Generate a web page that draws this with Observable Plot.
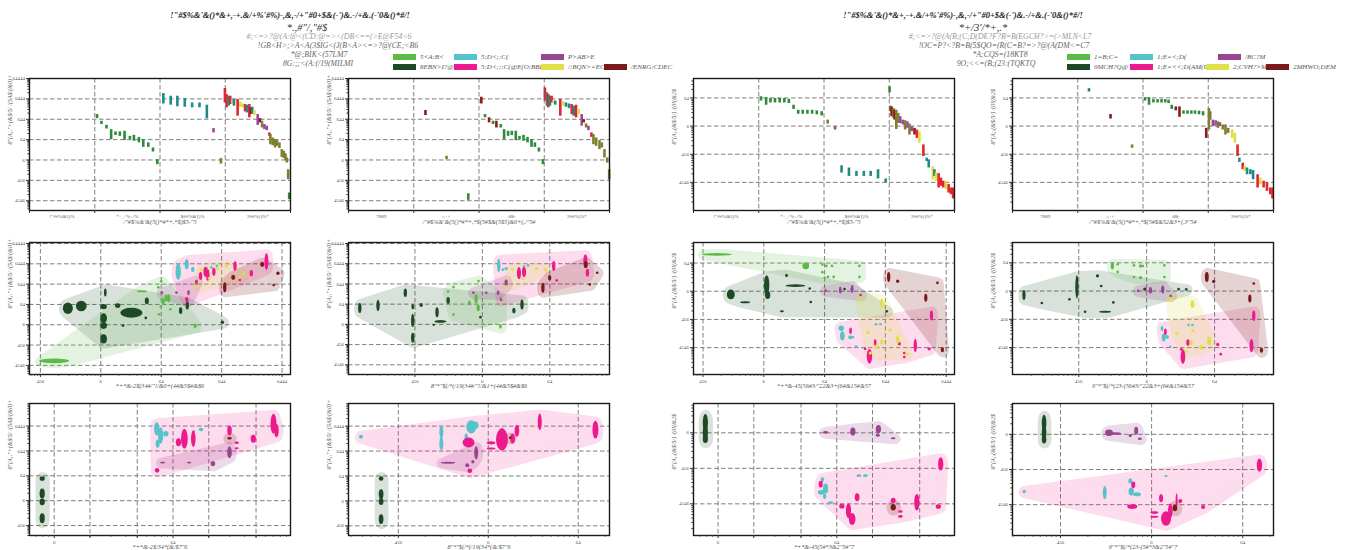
<!DOCTYPE html>
<html><head><meta charset="utf-8">
<script src="https://cdn.jsdelivr.net/npm/d3@7"></script>
<script src="https://cdn.jsdelivr.net/npm/@observablehq/plot@0.6"></script>
<style>
body{margin:0;background:#fff;width:1347px;height:550px;overflow:hidden;position:relative;font-family:"Liberation Serif",serif;}
.t{position:absolute;white-space:nowrap;font-style:italic;transform:translate(-50%,-50%);line-height:1;}
.p{position:absolute;}
.sw{position:absolute;width:23px;height:6px;}
.lb{position:absolute;white-space:nowrap;font-style:italic;font-size:7px;color:#555;transform:translateY(-50%);line-height:1;}
</style></head><body>
<script>
// ---------------- text ----------------
const titleG1 = `!"#$%&'&()*&+,-+.&/+%'#%)-,&,-/+"#0+$&(-')&.-/+&.(-'0&()*#/!`;
const titleG2 = `!"#$%&'&()*&+,-+.&/+%'#%)-,&,-/+"#0+$&(-')&.-/+&.(-'0&()*#/!`;
const subG1 = `*.,#"/,"#$`;
const subG2 = `*+/3'/*+,.*`;
const linesG1 = [`#;<=>?@(A:@<(CD:@=><(DB<==(>E@F54<6`, `!GB<H>;>A<A(3$IG<(J(B<A><=>?@(CE;<B6`, `*@;BIK<(57LM7`, `8G:;;<(A:(/19(MILMI`];
const linesG2 = [`#;<=>?@(A(B;(C;D(DE?F?B=B(EGCH?>=(>MLN<L7`, `!OC=P?<?B=B(5$QO=(R(C=B?=>?@(A(DM<=C7`, `*A;CQS=(18KT8`, `9O;<<=(B;(23:(TQKTQ`];
const legendG1 = [`5<A:B<`, `5:D<;:C(`, `P>AB>E`, `8EBN>I?@`, `5:D<;;:C(@E(O:BBI`, `/:BQN>=EC`, `/ENRG:CDEC`];
const legendG2 = [`1=B;C=`, `1;E=<;D(`, `/BC?M`, `9MCH?Q@`, `1;E=<<;D(AM(U;C(`, `2;CVH?>M`, `2MHWO;DEM`];
const legendCats = ["lg","cy","pu","dg","mg","ye","dr"];
const xLabG1 = [`/"#$%&'&(5()*#*+,*$)$5-"5`, `/"#$%&'&(5()*#*+,*$(5#$&(5$5)&0+(,/"5#`, `*+*&-2$(34#/"!/&0+(4#&5$#&$6`, `8"*"$(/*(/19(34#/"!/&1+(4#&5$#&$6`, `*+*&-2$/34*(&/$7"6`, `8"*"$(/*(/19(34*(&/$7"6`];
const xLabG2 = [`/"#$%&'&(5()*#*+,*$)$5-"5`, `/"#$%&'&(5()*#*+,*$(5#$&52&3+(,3"5#`, `*+*&-45(56#3/"22&3+(6#&15#&57`, `9"*"$(/*(23-(56#3/"22&3+(6#&15#&57`, `*+*&-45(5#*3&2"5#"7`, `9"*"$(/*(23-(5#*3&2"5#"7`];
const yLabG1 = `8"(A;,"+(&$/5/ /(5A$/(&0)+`;
const yLabG2 = `8"(A;,(&$/5/) /(0!(&2$`;
const sectG1A = [`!"##%&'()%`, `*+,+%-./%`, `$##%&'()%`, `2##%()%*`];
const sectG1B = [`7889`, `:;+<`, `;88-`, `2##%)%*`];
const sectG2A = [`!"##%&'()%`, `*+,+%-./%`, `$##%&'()%`, `2##%()%*`];
const sectG2B = [`7889`, `:;+<`, `;88-`, `2##%)%*`];

// ---------------- rank panels: [colour code, rank slot, log10 high, log10 low] ----------------
const rankG1A = [["g",40.4,2.23,2.03],["g",43,1.90,1.74],["g",46,1.70,1.52],["g",48.8,1.49,1.0],["g",51.4,1.38,1.20],["g",54,1.38,1.16],["g",56.8,1.41,0.95],["g",60,1.16,1.0],["g",62.4,1.21,0.92],["g",65.4,1.11,0.84],["g",68,1.0,0.62],["g",71,0.84,0.62],["g",73.8,0.59,0.39],["g",76.4,0.02,-0.23],
["t",80,3.26,2.75],["t",84.4,3.13,2.69],["t",88.4,3.13,2.61],["t",92.8,3.02,2.59],["t",97.2,2.80,2.56],["t",101.6,2.80,2.56],["t",106,2.69,2.02],["p",110,1.54,1.33],["o",114.4,0.07,-0.20],
["r",116.8,3.51,2.80],["r",117.8,3.21,2.56],["t",119,3.13,2.64],["r",120,3.13,2.72],["y",121.4,2.92,2.75],["t",122.2,2.97,2.64],["r",124.4,2.97,2.15],["y",126,2.85,2.59],["y",127.2,2.75,2.56],["r",128.8,2.72,2.36],["t",130,2.69,2.31],["r",131.4,2.72,2.07],["d",132.4,2.56,2.23],["t",133.2,2.59,2.26],["y",134.4,2.43,2.18],["p",136.4,2.23,1.70],["d",137.8,2.03,1.82],["o",139,1.90,1.57],["p",140.4,1.74,1.49],["p",141.8,1.66,1.44],["r",143.4,1.33,1.16],["o",144,1.25,0.75],["o",145.4,1.08,0.70],["o",146.8,1.0,0.59],["o",148,0.95,0.67],["o",149.4,0.84,0.56],["o",150.8,0.51,0.13],["o",152,0.43,0.07],["o",153,0.30,-0.03],["o",153.8,0.10,-0.15],["o",154.6,-0.48,-0.97],["g",155.2,-1.62,-1.95]];
const rankG1B = [["d",46,2.43,2.18],["o",58.6,0.18,0.02],["g",71.6,-1.66,-1.98],["d",79.4,3.08,2.75],["g",81.6,2.23,2.07],["d",84,2.07,1.82],["g",86.4,1.90,1.74],["d",88.4,1.90,1.57],["g",91,1.74,1.57],["g",93,1.49,1.0],["g",95.4,1.41,1.16],["g",97.6,1.41,1.20],["g",100,1.41,0.95],["g",102.2,1.16,1.0],["g",104.6,1.21,0.92],["g",107,1.11,0.84],["g",109.4,1.0,0.62],["g",111.4,0.84,0.62],["g",113.8,0.59,0.39],["g",116.2,0.02,-0.23],
["r",117.4,3.54,2.89],["t",118.6,3.30,2.64],["r",119.4,3.21,2.56],["t",120.4,3.13,2.64],["r",121.4,3.13,2.80],["y",122.6,2.92,2.75],["t",123.6,2.89,2.69],["r",126.6,2.97,2.15],["y",128.4,2.85,2.64],["t",130,2.80,2.59],["t",131.8,2.75,2.52],["r",133.4,2.72,2.23],["t",134.6,2.64,2.15],["r",136,2.69,2.07],["y",137.6,2.49,2.23],["p",139.4,2.23,1.66],["d",140.6,1.98,1.82],["o",142,1.77,1.57],["p",143.4,1.66,1.44],["r",145.2,1.33,1.11],["o",146.4,1.25,0.75],["o",148,1.08,0.67],["o",150,0.95,0.51],["o",151.4,0.84,0.59],["o",153,0.51,0.10],["o",154.6,0.10,-0.15],["o",155.8,-0.48,-0.97]];
const rankG2A = [["g",40.4,1.04,0.89],["g",43.4,1.01,0.74],["g",46,0.98,0.82],["g",48.7,0.98,0.82],["g",51.5,0.98,0.82],["g",54.3,0.98,0.82],["g",57,0.95,0.80],["g",59.8,0.74,0.59],["g",62.6,0.56,0.42],["g",65.3,0.56,0.42],["g",68.1,0.56,0.42],["g",70.9,0.56,0.42],["g",73.7,0.54,0.40],["g",76.6,0.51,0.36],["o",80.2,0.21,0.07],["p",84.6,-0.02,-0.14],["t",88.5,-1.41,-1.67],["t",92.9,-1.49,-1.79],["t",97.4,-1.61,-1.79],["t",101.8,-1.61,-1.79],["t",105.9,-1.61,-1.79],["t",110.3,-1.55,-1.88],["t",114.9,-1.88,-2.02],
["g",117.2,1.39,1.18],["o",117.6,0.71,0.51],["d",118.4,0.68,0.33],["o",119.6,0.62,0.27],["d",120.2,0.56,0.21],["o",121.2,0.56,-0.12],["o",122.4,0.45,0.09],["p",123.6,0.33,0.09],["p",125.1,0.21,0.04],["o",126.5,0.19,-0.14],["p",127.9,0.15,-0.08],["o",129.1,0.07,-0.32],["p",130.5,-0.02,-0.20],["d",132.1,-0.08,-0.32],["r",133.5,-0.14,-0.44],["y",135,-0.20,-0.61],["r",137.4,-0.67,-1.08],["t",139.4,-1.14,-1.26],["t",140.6,-1.20,-1.49],["y",143,-1.44,-1.91],["t",144,-1.55,-1.79],["y",145,-1.67,-1.96],["r",146.5,-1.69,-2.20],["r",147.9,-1.85,-2.14],["r",149.3,-1.96,-2.20],["y",150.9,-1.96,-2.26],["r",152.5,-2.08,-2.38],["r",153.9,-2.20,-2.44],["r",155.2,-2.20,-2.59]];
const rankG2B = [["g",45.7,1.33,1.21],["d",58.6,0.41,0.25],["o",71.5,-0.67,-0.79],["g",79.2,1.01,0.89],["g",81.6,1.01,0.74],["g",84.2,0.94,0.82],["g",86.7,0.94,0.82],["g",89.1,0.94,0.82],["g",91.3,0.94,0.82],["g",93.3,0.92,0.80],["g",95.2,0.74,0.59],["d",97.6,0.68,0.54],["d",99.8,0.68,0.31],["g",102.2,0.54,0.42],["g",104.6,0.54,0.42],["g",106.9,0.54,0.42],["g",109.1,0.54,0.42],["g",111.5,0.53,0.40],["g",113.9,0.51,0.36],
["d",115.8,-0.08,-0.44],["o",117.4,0.62,-0.14],["o",118.2,0.51,0.21],["p",119.8,0.21,-0.02],["p",121.4,0.19,0.0],["o",122.8,0.15,-0.08],["p",124,0.12,-0.02],["o",125.7,0.04,-0.14],["o",127.3,0.04,-0.32],["o",128.9,-0.08,-0.26],["y",131.3,-0.14,-0.44],["y",132.9,-0.26,-0.61],["r",134.5,-0.67,-1.08],["t",135.6,-1.14,-1.29],["r",137.6,-1.32,-1.55],["y",138.8,-1.44,-1.61],["t",140.2,-1.49,-1.73],["t",142.2,-1.55,-1.73],["t",143.8,-1.58,-1.91],["r",146.5,-1.73,-2.20],["y",148.1,-1.85,-2.08],["r",150.1,-1.96,-2.20],["r",152.1,-2.02,-2.32],["r",154.1,-2.20,-2.44],["r",155.4,-2.20,-2.59]];

// ---------------- scatter panels: [category, log10 x, log10 y, log10 x half-span, log10 y half-span] ----------------
const scatG1R2A = [["dg",-0.537,0.787,0.083,0.28],["dg",-0.315,0.90,0.089,0.26],["dg",0.083,1.56,0.022,0.197],["dg",0.055,0.87,0.055,0.13],["dg",0.055,0.295,0.055,0.246],["dg",0.055,-0.066,0.055,0.164],["dg",0.055,-0.72,0.055,0.23],["dg",0.288,0.92,0.044,0.115],["dg",0.515,0.57,0.183,0.246],["dg",0.376,-0.066,0.022,0.066],["dg",0.753,0.31,0.022,0.066],["dg",0.77,1.15,0.033,0.164],["dg",1.33,0.67,0.028,0.164],["dg",1.44,0.92,0.028,0.197],["dg",2.02,0.10,0.028,0.082],
["lg",-0.764,-1.80,0.25,0.115],["lg",0.69,1.62,0.083,0.05],["lg",1.01,2.11,0.022,0.066],["lg",0.96,1.82,0.022,0.066],["lg",1.04,1.11,0.028,0.164],["lg",1.09,1.28,0.028,0.164],["lg",1.13,1.28,0.028,0.197],["lg",1.16,0.74,0.022,0.066],["lg",0.97,0.49,0.022,0.066],["lg",1.00,0.87,0.022,0.066],["lg",1.57,-0.08,0.028,0.115],
["pu",1.02,1.56,0.022,0.066],["pu",1.26,1.56,0.022,0.066],["pu",1.46,1.56,0.022,0.13],["pu",1.59,2.07,0.022,0.13],["pu",1.44,1.15,0.022,0.066],
["cy",1.29,2.59,0.044,0.41],["cy",1.43,2.95,0.033,0.246],["cy",1.53,2.70,0.028,0.13],["cy",1.76,2.75,0.022,0.066],["cy",1.84,2.80,0.022,0.066],["cy",1.93,2.87,0.022,0.066],["cy",1.77,2.26,0.022,0.066],
["mg",1.66,2.38,0.028,0.197],["mg",1.74,2.59,0.033,0.246],["mg",1.78,2.43,0.028,0.295],["mg",1.88,2.59,0.028,0.197],["mg",2.23,2.87,0.028,0.23],["mg",2.50,2.51,0.028,0.164],["mg",2.75,3.08,0.033,0.41],["mg",2.31,2.18,0.022,0.066],["mg",1.43,1.23,0.028,0.115],["mg",1.59,2.10,0.022,0.066],
["ye",1.68,2.67,0.028,0.082],["ye",2.09,2.87,0.028,0.082],["ye",1.80,2.26,0.022,0.066],["ye",1.94,2.75,0.028,0.082],["ye",1.59,1.85,0.022,0.066],["ye",2.37,2.48,0.028,0.082],["ye",2.31,2.34,0.022,0.066],
["dr",2.06,1.82,0.028,0.246],["dr",2.20,2.31,0.033,0.13],["dr",2.68,2.95,0.033,0.13],["dr",2.94,2.51,0.028,0.082],["dr",2.87,1.93,0.022,0.066]];
const scatG1R2B = [["dg",-1.81,0.78,0.025,0.248],["dg",-1.54,0.91,0.025,0.28],["dg",-1.135,1.54,0.025,0.215],["dg",-1.025,0.86,0.02,0.132],["dg",-0.9,0.93,0.025,0.1],["dg",-1.025,0.17,0.025,0.33],["dg",-1.025,-0.69,0.025,0.248],["dg",-0.665,0.58,0.025,0.248],["dg",-0.615,0.12,0.09,0.066],["dg",-0.715,-0.05,0.015,0.05],["dg",-0.5,1.16,0.025,0.165],["dg",-0.02,0.33,0.02,0.066],["dg",0.475,0.66,0.025,0.132],["dg",0.595,0.96,0.025,0.248],
["lg",-0.05,2.12,0.02,0.066],["lg",-0.42,1.82,0.02,0.066],["lg",-0.5,1.60,0.02,0.066],["lg",-0.185,1.04,0.02,0.132],["lg",-0.085,1.24,0.025,0.23],["lg",-0.055,0.79,0.025,0.165],["lg",-0.42,0.46,0.02,0.066],["lg",0.275,1.29,0.02,0.066],["lg",0.275,-0.12,0.02,0.116],
["pu",-0.125,1.54,0.02,0.066],["pu",0.065,1.54,0.02,0.066],["pu",0.24,1.54,0.02,0.116],["pu",0.36,2.03,0.025,0.165],
["cy",0.25,2.89,0.025,0.33],["cy",0.31,2.68,0.02,0.066],["cy",0.36,2.73,0.025,0.083],["cy",0.625,2.84,0.02,0.066],["cy",0.685,2.89,0.02,0.066],
["mg",0.55,2.51,0.03,0.3],["mg",0.625,2.56,0.03,0.248],["mg",1.065,2.86,0.025,0.248],["mg",1.535,3.14,0.03,0.3],["mg",1.565,2.53,0.025,0.2],["mg",1.11,2.15,0.02,0.066],["mg",0.285,1.19,0.02,0.066],
["ye",0.45,2.71,0.025,0.083],["ye",0.6,2.23,0.02,0.066],["ye",0.81,2.74,0.025,0.083],["ye",0.94,2.69,0.025,0.083],["ye",0.36,1.85,0.02,0.066],
["dr",0.905,1.79,0.025,0.248],["dr",1.005,2.28,0.025,0.132],["dr",1.54,2.93,0.03,0.165],["dr",1.71,2.53,0.02,0.066],["dr",1.6,1.95,0.02,0.066]];
const scatG1R3A = [["dg",-0.097,0.87,0.022,0.093],["dg",-0.097,0.27,0.022,0.2],["dg",-0.097,-0.07,0.022,0.133],["dg",-0.097,-0.73,0.022,0.2],
["pu",0.917,1.51,0.022,0.04],["pu",1.14,1.51,0.019,0.04],["pu",1.34,1.47,0.019,0.107],["pu",1.48,1.93,0.019,0.24],
["cy",0.867,2.87,0.022,0.267],["cy",0.90,2.6,0.022,0.333],["cy",0.944,2.67,0.022,0.107],["cy",0.875,2.27,0.017,0.16],["cy",1.24,2.84,0.019,0.067],["cy",1.18,2.76,0.014,0.04],
["mg",0.87,1.2,0.019,0.093],["mg",1.05,2.33,0.022,0.16],["mg",1.10,2.47,0.028,0.4],["mg",1.175,2.47,0.019,0.333],["mg",1.48,2.8,0.019,0.2],["mg",1.54,2.31,0.019,0.053],["mg",1.54,2.09,0.017,0.04],["mg",1.68,2.47,0.022,0.16],["mg",1.85,3.07,0.025,0.4],["mg",1.875,2.8,0.019,0.267],
["dr",1.48,2.49,0.019,0.053]];
const scatG1R3B = [["dg",-1.186,0.88,0.026,0.093],["dg",-1.186,0.25,0.026,0.2],["dg",-1.186,-0.05,0.026,0.133],["dg",-1.186,-0.75,0.026,0.2],
["pu",-0.442,1.51,0.081,0.04],["pu",-0.228,1.41,0.022,0.08],["pu",-0.166,1.55,0.018,0.067],["pu",-0.129,1.91,0.022,0.267],
["cy",-1.41,2.55,0.022,0.08],["cy",-0.516,2.75,0.022,0.267],["cy",-0.516,2.28,0.022,0.267],["cy",-0.184,2.95,0.055,0.267],["cy",-0.147,3.01,0.044,0.16],["cy",-0.24,2.55,0.018,0.133],["cy",0.158,2.84,0.022,0.08],
["mg",-0.214,2.32,0.066,0.2],["mg",-0.2,1.19,0.026,0.093],["mg",0.037,2.31,0.048,0.067],["mg",0.037,2.08,0.048,0.04],["mg",0.158,2.44,0.066,0.44],["mg",0.276,2.48,0.026,0.2],["mg",0.324,2.79,0.026,0.24],["mg",0.578,3.15,0.022,0.333],["mg",1.197,2.84,0.033,0.36],
["dr",0.25,2.51,0.015,0.053]];
const scatG2R2A = [["lg",-0.764,1.29,0.245,0.047],["lg",0.698,0.88,0.055,0.118],["lg",0.971,0.93,0.022,0.047],["lg",1.037,0.88,0.022,0.047],["lg",1.13,0.88,0.022,0.047],["lg",0.971,0.66,0.022,0.047],["lg",1.01,0.46,0.022,0.047],["lg",1.064,0.49,0.022,0.047],["lg",1.157,0.49,0.022,0.047],["lg",1.582,0.88,0.022,0.047],["lg",1.582,0.49,0.022,0.047],
["dg",-0.535,-0.13,0.065,0.176],["dg",-0.3,-0.41,0.082,0.035],["dg",0.055,0.2,0.044,0.353],["dg",0.071,-0.15,0.044,0.141],["dg",0.382,0.54,0.022,0.059],["dg",0.529,0.18,0.164,0.047],["dg",0.764,0.08,0.022,0.047],["dg",0.78,-0.4,0.022,0.047],["dg",0.305,-0.73,0.033,0.035],["dg",1.337,0.06,0.022,0.047],["dg",1.457,0.06,0.022,0.047],["dg",2.03,-0.73,0.022,0.047],
["pu",1.026,0.01,0.022,0.047],["pu",1.266,0.02,0.022,0.118],["pu",1.462,0.06,0.022,0.141],["pu",1.6,-0.15,0.022,0.047],
["cy",1.282,-1.33,0.044,0.094],["cy",1.3,-1.6,0.038,0.165],["cy",1.43,-1.65,0.033,0.07],["cy",1.855,-1.19,0.022,0.047],["cy",1.926,-1.19,0.022,0.047],["cy",1.528,-1.98,0.022,0.047],["cy",1.473,-1.65,0.022,0.047],
["mg",1.435,-1.42,0.022,0.118],["mg",1.675,-2.06,0.022,0.047],["mg",1.84,-1.84,0.022,0.118],["mg",1.746,-2.33,0.044,0.26],["mg",2.237,-1.88,0.027,0.059],["mg",2.319,-2.21,0.022,0.047],["mg",2.319,-2.35,0.022,0.047],["mg",2.5,-1.94,0.027,0.235],["mg",2.728,-2.06,0.027,0.059],["mg",2.766,-0.88,0.027,0.176],
["ye",1.6,-0.29,0.022,0.094],["ye",1.948,-0.45,0.027,0.165],["ye",2.084,-1.39,0.027,0.059],["ye",2.21,-1.74,0.027,0.141],["ye",1.72,-1.48,0.027,0.059],["ye",1.866,-1.98,0.027,0.094],["ye",1.948,-1.82,0.027,0.094],["ye",2.36,-2.24,0.027,0.059],["ye",1.76,-2.21,0.027,0.059],
["dr",2.062,0.49,0.027,0.176],["dr",2.21,0.34,0.027,0.059],["dr",2.864,0.28,0.022,0.047],["dr",2.673,-0.25,0.027,0.141],["dr",2.946,-2.09,0.027,0.094]];
const scatG2R2B = [["lg",-0.498,0.87,0.024,0.118],["lg",-0.42,0.93,0.02,0.047],["lg",-0.42,0.66,0.02,0.047],["lg",-0.18,0.89,0.02,0.047],["lg",-0.083,0.87,0.024,0.059],["lg",-0.049,0.87,0.02,0.047],["lg",0.268,0.89,0.02,0.047],["lg",-0.18,0.48,0.02,0.047],["lg",-0.083,0.46,0.024,0.059],["lg",0.268,0.48,0.02,0.047],
["dg",-1.8,-0.16,0.024,0.176],["dg",-1.537,-0.44,0.02,0.047],["dg",-1.02,0.13,0.024,0.41],["dg",-1.13,-0.31,0.02,0.047],["dg",-0.717,0.52,0.024,0.059],["dg",-0.663,0.16,0.02,0.047],["dg",-0.483,-0.42,0.02,0.047],["dg",-0.9,-0.75,0.02,0.047],["dg",-0.605,-0.75,0.088,0.035],["dg",-0.02,0.05,0.024,0.059],["dg",0.478,0.05,0.02,0.047],["dg",0.59,0.04,0.02,0.047],
["pu",-0.117,-0.01,0.02,0.047],["pu",0.063,0.01,0.024,0.118],["pu",0.244,0.04,0.024,0.141],["pu",0.361,-0.19,0.02,0.047],
["cy",0.234,-1.34,0.02,0.094],["cy",0.259,-1.66,0.029,0.141],["cy",0.307,-1.64,0.029,0.07],["cy",0.356,-1.99,0.02,0.047],["cy",0.624,-1.22,0.02,0.047],["cy",0.683,-1.22,0.02,0.047],
["mg",0.283,-1.46,0.02,0.118],["mg",0.615,-1.84,0.024,0.118],["mg",0.517,-2.08,0.02,0.047],["mg",0.541,-2.34,0.034,0.26],["mg",1.054,-1.91,0.024,0.059],["mg",1.098,-2.25,0.02,0.047],["mg",1.551,-1.95,0.029,0.235],["mg",1.585,-0.89,0.024,0.188],
["ye",0.361,-0.31,0.02,0.094],["ye",0.683,-0.48,0.029,0.141],["ye",0.683,-1.42,0.024,0.059],["ye",0.449,-1.52,0.024,0.059],["ye",0.663,-1.85,0.024,0.094],["ye",0.81,-2.01,0.024,0.094],["ye",0.927,-1.79,0.029,0.165],["ye",0.59,-2.16,0.02,0.047],
["dr",0.893,0.48,0.029,0.176],["dr",0.995,0.32,0.024,0.059],["dr",1.585,0.25,0.02,0.047],["dr",1.527,-0.28,0.024,0.141],["dr",1.698,-2.11,0.024,0.094]];
const scatG2R3A = [["dg",-0.103,0.28,0.022,0.235],["dg",-0.103,0.0,0.022,0.235],["dg",-0.103,-0.19,0.022,0.113],
["pu",0.91,0.0,0.022,0.038],["pu",1.14,0.02,0.022,0.113],["pu",1.355,0.09,0.022,0.113],["pu",1.35,-0.08,0.017,0.047],["pu",1.48,-0.17,0.02,0.028],
["cy",0.883,-1.33,0.014,0.075],["cy",0.91,-1.58,0.022,0.141],["cy",0.874,-1.69,0.028,0.066],["cy",0.902,-1.8,0.014,0.075],["cy",0.953,-1.98,0.022,0.038],["cy",1.19,-1.22,0.02,0.038],["cy",1.246,-1.22,0.02,0.038],
["mg",0.869,-1.46,0.017,0.094],["mg",1.047,-2.08,0.022,0.066],["mg",1.103,-2.21,0.022,0.207],["mg",1.134,-2.44,0.028,0.169],["mg",1.176,-1.83,0.02,0.113],["mg",1.48,-1.92,0.02,0.075],["mg",1.54,-2.23,0.02,0.038],["mg",1.54,-2.37,0.02,0.038],["mg",1.679,-1.97,0.022,0.235],["mg",1.86,-2.09,0.022,0.066],["mg",1.88,-0.89,0.022,0.188],
["dr",1.48,-2.11,0.022,0.094]];
const scatG2R3B = [["dg",-1.175,0.31,0.025,0.235],["dg",-1.175,0.03,0.025,0.235],["dg",-1.175,-0.16,0.025,0.113],
["pu",-0.462,0.03,0.044,0.094],["pu",-0.4,0.01,0.073,0.038],["pu",-0.229,-0.05,0.018,0.047],["pu",-0.164,0.09,0.022,0.113],["pu",-0.124,-0.14,0.022,0.038],
["cy",-1.393,-1.64,0.018,0.047],["cy",-0.509,-1.67,0.022,0.188],["cy",-0.229,-1.34,0.022,0.075],["cy",-0.218,-1.64,0.029,0.113],["cy",-0.156,-1.72,0.044,0.057],["cy",0.164,-1.2,0.018,0.028],
["mg",-0.196,-1.45,0.022,0.094],["mg",-0.207,-2.07,0.055,0.066],["mg",0.036,-2.24,0.044,0.038],["mg",0.036,-2.36,0.044,0.028],["mg",0.164,-2.41,0.055,0.207],["mg",0.211,-2.19,0.025,0.207],["mg",0.28,-1.88,0.011,0.188],["mg",0.32,-1.91,0.022,0.057],["mg",0.109,-1.83,0.022,0.113],["mg",0.571,-2.08,0.022,0.057],["mg",1.189,-0.89,0.029,0.188],
["dr",0.262,-2.11,0.025,0.094]];

// tick values
const ticksDec4 = [0.01,0.1,1,10,100,1000,10000];
const ticksDec3 = [0.1,1,10,100,1000];
const ticksLow = [0.01,0.1,1,10];
const ticksLow3 = [0.01,0.1,1];
const ticks125 = [1,2,5,10,20,50];
const ticks3 = [0.1,1,10];

// ---------------- styling ----------------
const COL = {lg:"#5cbb45", cy:"#55c4ca", pu:"#984690", dg:"#1c4a24", mg:"#ec1a8c", ye:"#dfe04a", dr:"#7a1a1c"};
const RC = {g:"#2e8b3c", t:"#1f8a8a", r:"#e3262d", y:"#dede3c", p:"#a0469a", o:"#7f7f30", d:"#8b1c1c"};
const HULLS = [["dg",["dg"],0.16],["lg",["lg"],0.16],["pu",["pu"],0.19],["mg",["cy","mg"],0.15],["ye",["ye"],0.19],["dr",["dr"],0.19]];
const glyph = {"0":"4",".":"5","1":"6","2":"<","5":"="};
const garble = v => String(v).replace(/[0-9.]/g, c => glyph[c] ?? c);

const FW = 261, FH = 132, ML = 30, MR = 6, MT = 6, MB = 26;
const FONT = "Liberation Serif";

function minor([a, b]) {
  const out = [];
  for (let k = Math.floor(a); k <= Math.ceil(b); k++)
    for (let m = 2; m <= 9; m++) { const v = m * 10 ** k, l = Math.log10(v); if (l >= a && l <= b) out.push(v); }
  return out;
}
function ellipseMark(rows) {
  return (index, scales) => {
    const g = d3.create("svg:g");
    for (const [c, lx, ly, dx, dy] of rows) {
      const rx = Math.abs(scales.x(10 ** (lx + dx)) - scales.x(10 ** (lx - dx))) / 2;
      const ry = Math.abs(scales.y(10 ** (ly + dy)) - scales.y(10 ** (ly - dy))) / 2;
      g.append("ellipse").attr("cx", scales.x(10 ** lx)).attr("cy", scales.y(10 ** ly))
        .attr("rx", rx).attr("ry", ry).attr("fill", COL[c]);
    }
    return g.node();
  };
}
function hullMarks(rows) {
  const marks = [];
  for (const [key, cats, op] of HULLS) {
    const pts = rows.filter(d => cats.includes(d[0])).flatMap(([c, lx, ly, dx, dy]) =>
      d3.range(12).map(i => [lx + dx * Math.cos(i * Math.PI / 6), ly + dy * Math.sin(i * Math.PI / 6)]));
    if (!pts.length) continue;
    marks.push(Plot.hull(pts, {x: d => 10 ** d[0], y: d => 10 ** d[1], fill: COL[key], stroke: COL[key],
      strokeWidth: 9, strokeLinejoin: "round", opacity: op}));
  }
  return marks;
}
function commonAxes(xt, yt, xdom, ydom, xlab, ylab, logX) {
  const tickStyle = {fontSize: 5, fill: "#555", stroke: "#333", label: null};
  const m = [
    Plot.frame({stroke: "#1a1a1a", strokeWidth: 1.4}),
    Plot.axisY(yt, {...tickStyle, tickSize: 3, tickPadding: 1.5, tickFormat: garble}),
    Plot.axisY(minor(ydom), {...tickStyle, tickSize: 1.6, tickFormat: () => ""}),
    Plot.text([xlab], {text: d => d, frameAnchor: "bottom", dy: 13, fontStyle: "italic", fontSize: 6.2, fill: "#555", fontFamily: FONT}),
    Plot.text([ylab], {text: d => d, frameAnchor: "left", dx: -19, rotate: -90, fontStyle: "italic", fontSize: 6, fill: "#555", fontFamily: FONT})
  ];
  if (logX) {
    m.push(Plot.axisX(xt, {...tickStyle, tickSize: 3, tickPadding: 2, tickFormat: garble}));
    m.push(Plot.axisX(minor(xdom), {...tickStyle, tickSize: 1.6, tickFormat: () => ""}));
  }
  return m;
}
const gridStyle = {stroke: "#707070", strokeOpacity: 1, strokeWidth: 0.9, strokeDasharray: "4.5,2.5"};

function scatterPlot(rows, xdom, ydom, xt, yt, xlab, ylab) {
  return Plot.plot({
    width: FW + ML + MR, height: FH + MT + MB, marginLeft: ML, marginRight: MR, marginTop: MT, marginBottom: MB,
    x: {type: "log", domain: [10 ** xdom[0], 10 ** xdom[1]], label: null},
    y: {type: "log", domain: [10 ** ydom[0], 10 ** ydom[1]], label: null},
    style: {fontFamily: FONT, fontSize: "5px", color: "#555", background: "transparent"},
    marks: [
      Plot.gridX(xt, gridStyle),
      Plot.gridY(yt, gridStyle),
      ...hullMarks(rows),
      ellipseMark(rows),
      ...commonAxes(xt, yt, xdom, ydom, xlab, ylab, true)
    ]
  });
}
function rankPlot(rows, ydom, yt, sect, xlab, ylab) {
  const bounds = [0, 39, 78, 117, 156];
  const mids = [19.5, 58.5, 97.5, 136.5];
  return Plot.plot({
    width: FW + ML + MR, height: FH + MT + MB, marginLeft: ML, marginRight: MR, marginTop: MT, marginBottom: MB,
    x: {domain: [0, 156], label: null},
    y: {type: "log", domain: [10 ** ydom[0], 10 ** ydom[1]], label: null},
    color: {type: "identity"},
    style: {fontFamily: FONT, fontSize: "5px", color: "#555", background: "transparent"},
    marks: [
      Plot.gridX([39, 78, 117], gridStyle),
      Plot.gridY(yt, gridStyle),
      Plot.ruleX(rows, {x: d => d[1], y1: d => 10 ** d[2], y2: d => 10 ** d[3], stroke: d => RC[d[0]], strokeWidth: 2.6}),
      ...commonAxes(null, yt, null, ydom, xlab, ylab, false),
      Plot.axisX(bounds, {tickSize: 3, stroke: "#333", tickFormat: () => "", label: null}),
      Plot.axisX(mids, {tickSize: 0, tickPadding: 4, fontSize: 5, fill: "#555", tickFormat: (d, i) => sect[i], label: null})
    ]
  });
}

// ---------------- layout ----------------
const colLeft = [29, 348, 693, 1012];
const rowTop = [78, 242, 403];
function place(node, fl, ft) {
  node.classList.add("p");
  node.style.left = (fl - ML) + "px";
  node.style.top = (ft - MT) + "px";
  document.body.appendChild(node);
}
function addText(str, cx, cy, size, color, weight) {
  const d = document.createElement("div");
  d.className = "t"; d.textContent = str;
  Object.assign(d.style, {left: cx + "px", top: cy + "px", fontSize: size + "px", color, fontWeight: weight || "normal"});
  document.body.appendChild(d);
}

// rank row
place(rankPlot(rankG1A, [-2.48, 4.0], ticksDec4, sectG1A, xLabG1[0], yLabG1), colLeft[0], rowTop[0]);
place(rankPlot(rankG1B, [-2.48, 4.0], ticksDec4, sectG1B, xLabG1[1], yLabG1), colLeft[1], rowTop[0]);
place(rankPlot(rankG2A, [-3.0, 1.69], ticksLow, sectG2A, xLabG2[0], yLabG2), colLeft[2], rowTop[0]);
place(rankPlot(rankG2B, [-3.0, 1.69], ticksLow, sectG2B, xLabG2[1], yLabG2), colLeft[3], rowTop[0]);
// scatter rows
place(scatterPlot(scatG1R2A, [-1.18, 3.14], [-2.45, 4.05], ticksDec3, ticksDec4, xLabG1[2], yLabG1), colLeft[0], rowTop[1]);
place(scatterPlot(scatG1R2B, [-1.985, 1.885], [-2.48, 4.05], ticks3, ticksDec4, xLabG1[3], yLabG1), colLeft[1], rowTop[1]);
place(scatterPlot(scatG1R3A, [-0.208, 1.989], [-1.4, 3.907], ticks125, ticksDec3, xLabG1[4], yLabG1), colLeft[0], rowTop[2]);
place(scatterPlot(scatG1R3B, [-1.554, 1.348], [-1.387, 3.907], ticks3, ticksDec3, xLabG1[5], yLabG1), colLeft[1], rowTop[2]);
place(scatterPlot(scatG2R2A, [-1.157, 3.137], [-2.953, 1.729], ticksDec3, ticksLow, xLabG2[2], yLabG2), colLeft[2], rowTop[1]);
place(scatterPlot(scatG2R2B, [-1.976, 1.868], [-2.953, 1.718], ticks3, ticksLow, xLabG2[3], yLabG2), colLeft[3], rowTop[1]);
place(scatterPlot(scatG2R3A, [-0.207, 1.992], [-2.892, 0.826], ticks125, ticksLow3, xLabG2[4], yLabG2), colLeft[2], rowTop[2]);
place(scatterPlot(scatG2R3B, [-1.527, 1.338], [-2.877, 0.877], ticks3, ticksLow3, xLabG2[5], yLabG2), colLeft[3], rowTop[2]);

// headers
addText(titleG1, 290, 15, 8.5, "#222", "bold");
addText(titleG2, 963, 15, 8.5, "#222", "bold");
addText(subG1, 307, 28, 10.5, "#333");
addText(subG2, 983, 28, 10.5, "#333");
const lineCenters = [[[329,37],[338,46],[319,55],[318,64]], [[1000,37],[1004,46],[1000,55],[996,64]]];
const lineColors = ["#999", "#666", "#666", "#666"];
linesG1.forEach((s, i) => addText(s, lineCenters[0][i][0], lineCenters[0][i][1], 7.8, lineColors[i]));
linesG2.forEach((s, i) => addText(s, lineCenters[1][i][0], lineCenters[1][i][1], 7.8, lineColors[i]));

// legends
const legPosG1 = [[393,57],[454,57],[541,57],[393,67],[454,67],[541,67],[604,67]];
const legPosG2 = [[1067,57],[1130,57],[1218,57],[1067,67],[1130,67],[1206,67],[1266,67]];
function legend(labels, pos) {
  labels.forEach((lab, i) => {
    const [x, y] = pos[i];
    const s = document.createElement("div"); s.className = "sw";
    Object.assign(s.style, {left: x + "px", top: (y - 3) + "px", background: COL[legendCats[i]]});
    document.body.appendChild(s);
    const l = document.createElement("div"); l.className = "lb"; l.textContent = lab;
    Object.assign(l.style, {left: (x + 27) + "px", top: y + "px"});
    document.body.appendChild(l);
  });
}
legend(legendG1, legPosG1);
legend(legendG2, legPosG2);
</script>
</body></html>
